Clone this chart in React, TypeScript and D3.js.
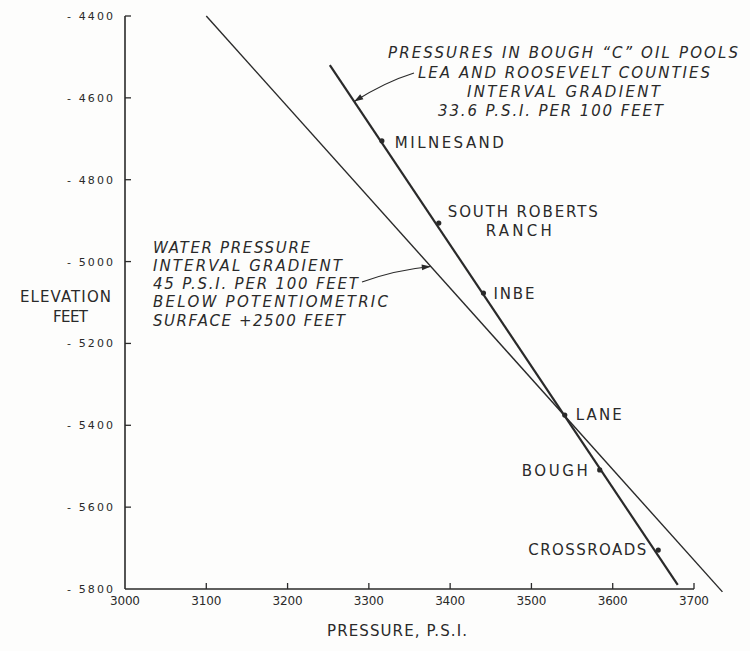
import React from "react";
import * as d3 from "d3";

const xTicks = [3000, 3100, 3200, 3300, 3400, 3500, 3600, 3700];
const yTicks = [-4400, -4600, -4800, -5000, -5200, -5400, -5600, -5800];

const oilLine: [number, number][] = [
  [3252, -4520],
  [3680, -5790],
];
const waterLine: [number, number][] = [
  [3100, -4400],
  [3735, -5807],
];

const poolNames = ["MILNESAND", "SOUTH ROBERTS", "INBE", "LANE", "BOUGH", "CROSSROADS"];
const poolPressure = [3316, 3386, 3441, 3541, 3584, 3656];
const poolElevation = [-4705, -4906, -5077, -5375, -5509, -5705];

const oilNote = [
  "PRESSURES IN BOUGH \u201CC\u201D OIL POOLS",
  "LEA AND ROOSEVELT COUNTIES",
  "INTERVAL GRADIENT",
  "33.6 P.S.I. PER 100 FEET",
];
const waterNote = [
  "WATER PRESSURE",
  "INTERVAL GRADIENT",
  "45 P.S.I. PER 100 FEET",
  "BELOW POTENTIOMETRIC",
  "SURFACE +2500 FEET",
];

const W = 750;
const H = 651;
const ink = "#2a2a2a";
const font = "'DejaVu Sans', sans-serif";

function pressureAt(line: [number, number][], elev: number) {
  const s = d3.scaleLinear().domain([line[0][1], line[1][1]]).range([line[0][0], line[1][0]]);
  return s(elev);
}

export default function App() {
  const x = d3.scaleLinear().domain([3000, 3700]).range([125, 694]);
  const y = d3.scaleLinear().domain([-4400, -5800]).range([16, 589]);
  const line = d3
    .line<[number, number]>()
    .x((d) => x(d[0]))
    .y((d) => y(d[1]));

  // label layout (offsets from point, in px)
  const labelLayout = [
    { dx: 13, dy: 7, anchor: "start", len: 109 },
    { dx: 84, dy: -6, anchor: "middle", len: 150 },
    { dx: 10, dy: 6, anchor: "start", len: 41 },
    { dx: 11, dy: 5, anchor: "start", len: 46 },
    { dx: -12, dy: 6, anchor: "end", len: 66 },
    { dx: -12, dy: 5, anchor: "end", len: 118 },
  ];

  const oilNoteLayout = [
    { x: 388, y: 58, len: 350 },
    { x: 418, y: 78, len: 292 },
    { x: 467, y: 97, len: 193 },
    { x: 438, y: 116, len: 225 },
  ];
  const waterNoteLayout = [
    { x: 153, y: 253, len: 157 },
    { x: 153, y: 271, len: 189 },
    { x: 153, y: 289, len: 205 },
    { x: 153, y: 307, len: 235 },
    { x: 153, y: 326, len: 192 },
  ];

  // arrow tips on lines
  const oilTipE = -4609;
  const oilTip = [x(pressureAt(oilLine, oilTipE)), y(oilTipE)];
  const waterTipE = -5012;
  const waterTip = [x(pressureAt(waterLine, waterTipE)), y(waterTipE)];

  const oilArrowStart = [414, 73];
  const waterArrowStart = [362, 282];

  const arrowHead = (tip: number[], from: number[]) => {
    const ang = Math.atan2(tip[1] - from[1], tip[0] - from[0]);
    const L = 9;
    const w = 3;
    const bx = tip[0] - L * Math.cos(ang);
    const by = tip[1] - L * Math.sin(ang);
    const px = -Math.sin(ang) * w;
    const py = Math.cos(ang) * w;
    return `M${tip[0]},${tip[1]}L${bx + px},${by + py}L${bx - px},${by - py}Z`;
  };

  const oilCtrl = [385, 82];
  const waterCtrl = [395, 270];

  return (
    <svg
      width={W}
      height={H}
      style={{ position: "absolute", left: 0, top: 0, background: "#fdfdfc" }}
      fontFamily={font}
    >
      {/* axes */}
      <line x1={x(3000)} x2={x(3000)} y1={y(-4400)} y2={y(-5800)} stroke={ink} strokeWidth={1.6} />
      <line x1={x(3000)} x2={x(3700)} y1={y(-5800)} y2={y(-5800)} stroke={ink} strokeWidth={1.6} />
      {yTicks.map((t) => (
        <g key={t}>
          {t !== -5800 && (
            <line x1={x(3000)} x2={x(3000) + 6} y1={y(t)} y2={y(t)} stroke={ink} strokeWidth={1.3} />
          )}
          <text
            x={113}
            y={y(t) + 4}
            textAnchor="end"
            fontSize={11}
            fill={ink}
            textLength={46}
            lengthAdjust="spacing"
          >
            {"- " + Math.abs(t)}
          </text>
        </g>
      ))}
      {xTicks.map((t) => (
        <g key={t}>
          {t !== 3000 && (
            <line x1={x(t)} x2={x(t)} y1={y(-5800)} y2={y(-5800) - 6} stroke={ink} strokeWidth={1.3} />
          )}
          <text x={x(t)} y={605} textAnchor="middle" fontSize={12} fill={ink} textLength={30} lengthAdjust="spacing">
            {t}
          </text>
        </g>
      ))}

      {/* axis titles */}
      <text x={20} y={302} fontSize={15} fill={ink} textLength={91} lengthAdjust="spacing">
        ELEVATION
      </text>
      <text x={53} y={322} fontSize={15} fill={ink} textLength={35} lengthAdjust="spacing">
        FEET
      </text>
      <text x={327} y={636} fontSize={15} fill={ink} textLength={140} lengthAdjust="spacing">
        PRESSURE, P.S.I.
      </text>

      {/* lines */}
      <path d={line(waterLine) || ""} stroke={ink} strokeWidth={1.4} fill="none" />
      <path d={line(oilLine) || ""} stroke={ink} strokeWidth={2.2} fill="none" />

      {/* pools */}
      {poolNames.map((n, i) => {
        const px = x(poolPressure[i]);
        const py = y(poolElevation[i]);
        const l = labelLayout[i];
        return (
          <g key={n}>
            <circle cx={px} cy={py} r={2.6} fill={ink} />
            <text
              x={px + l.dx}
              y={py + l.dy}
              textAnchor={l.anchor as any}
              fontSize={15}
              fill={ink}
              textLength={l.len}
              lengthAdjust="spacing"
            >
              {n}
            </text>
            {n === "SOUTH ROBERTS" && (
              <text
                x={px + l.dx - 4}
                y={py + l.dy + 19}
                textAnchor="middle"
                fontSize={15}
                fill={ink}
                textLength={66}
                lengthAdjust="spacing"
              >
                RANCH
              </text>
            )}
          </g>
        );
      })}

      {/* annotations */}
      {oilNote.map((s, i) => (
        <text
          key={s}
          x={oilNoteLayout[i].x}
          y={oilNoteLayout[i].y}
          fontSize={15}
          fontStyle="italic"
          fill={ink}
          textLength={oilNoteLayout[i].len}
          lengthAdjust="spacing"
        >
          {s}
        </text>
      ))}
      {waterNote.map((s, i) => (
        <text
          key={s}
          x={waterNoteLayout[i].x}
          y={waterNoteLayout[i].y}
          fontSize={15}
          fontStyle="italic"
          fill={ink}
          textLength={waterNoteLayout[i].len}
          lengthAdjust="spacing"
        >
          {s}
        </text>
      ))}

      {/* arrows */}
      <path
        d={`M${oilArrowStart[0]},${oilArrowStart[1]}Q${oilCtrl[0]},${oilCtrl[1]} ${oilTip[0]},${oilTip[1]}`}
        stroke={ink}
        strokeWidth={1.2}
        fill="none"
      />
      <path d={arrowHead(oilTip, oilCtrl)} fill={ink} />
      <path
        d={`M${waterArrowStart[0]},${waterArrowStart[1]}Q${waterCtrl[0]},${waterCtrl[1]} ${waterTip[0]},${waterTip[1]}`}
        stroke={ink}
        strokeWidth={1.2}
        fill="none"
      />
      <path d={arrowHead(waterTip, waterCtrl)} fill={ink} />
    </svg>
  );
}
